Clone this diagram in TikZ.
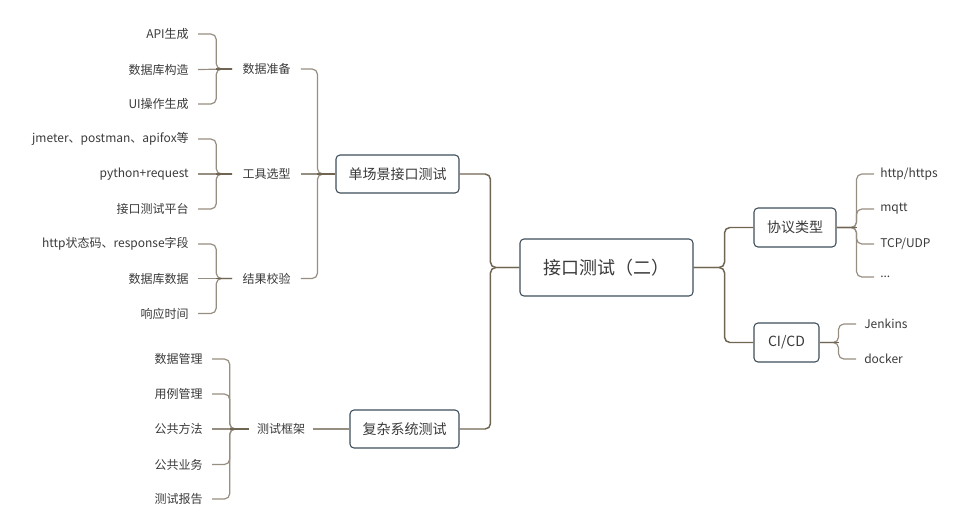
\documentclass[tikz,border=0pt]{standalone}
\usepackage{fontspec}
\setmainfont{Noto Sans CJK SC}
\usepackage{tikz}
\usetikzlibrary{positioning}
\definecolor{mmLine}{RGB}{112,101,82}
\definecolor{mmStub}{RGB}{150,142,128}
\definecolor{mmBox}{RGB}{62,78,90}
\definecolor{mmText}{RGB}{58,58,58}

\begin{document}
\begin{tikzpicture}[
    x=0.75pt, y=-0.75pt,
    topic/.style={draw=mmBox, line width=0.8pt, rounded corners=3pt, fill=white,
                  text=mmText, font=\fontsize{10.5pt}{12pt}\selectfont, inner sep=0pt},
    sub/.style={text=mmText, font=\fontsize{9pt}{11pt}\selectfont, inner ysep=2pt},
    leafL/.style={sub, anchor=east, inner xsep=6.75pt},
    leafR/.style={sub, anchor=west, inner xsep=4.5pt},
    trunk/.style={draw=mmLine, line width=1.1pt, rounded corners=4pt},
    stub/.style={draw=mmStub, line width=0.9pt, rounded corners=4pt}
  ]
  \useasboundingbox (0,0) rectangle (978,526);

  % central topic
  \node[topic, minimum width=129.75pt, minimum height=42.75pt,
        font=\fontsize{13.5pt}{16pt}\selectfont] (root) at (606.5,267.5) {接口测试（二）};

  % main topics
  \node[topic, minimum width=92.25pt, minimum height=28.5pt] (single) at (397.5,174) {单场景接口测试};
  \node[topic, minimum width=81.75pt, minimum height=28.5pt] (complex) at (404.5,429) {复杂系统测试};
  \node[topic, minimum width=61.5pt, minimum height=29.25pt] (proto) at (795,227.5) {协议类型};
  \node[topic, minimum width=48.75pt, minimum height=29.25pt] (cicd) at (786.5,342.5) {CI/CD};

  \draw[trunk] (root.west) -- ++(-29,0) |- (single.east);
  \draw[trunk] (root.west) -- ++(-29,0) |- (complex.east);
  \draw[trunk] (root.east) -- ++(31,0) |- (proto.west);
  \draw[trunk] (root.east) -- ++(31,0) |- (cicd.west);

  % single scenario
  \node[sub, inner xsep=7.5pt] (prep) at (266.5,69) {数据准备};
  \node[sub, inner xsep=7.5pt] (tool) at (266.5,174) {工具选型};
  \node[sub, inner xsep=7.5pt] (check) at (266.5,278.5) {结果校验};
  \foreach \n [count=\i] in {prep, tool, check} {
    \ifnum\i=2
      \draw[stub] (single.west) -- (\n.east);
    \else
      \draw[stub] (single.west) -- ++(-18,0) |- (\n.east);
    \fi
  }
  \draw[trunk] (single.west) -- ++(-18,0);

  \foreach \t/\y [count=\i] in {API生成/34, 数据库构造/69.5, UI操作生成/104} {
    \node[leafL] (prep\i) at (198,\y) {\t};
    \ifnum\i=2
      \draw[stub] (prep.west) -- (prep\i.east);
    \else
      \draw[stub] (prep.west) -- ++(-16,0) |- (prep\i.east);
    \fi
  }
  \draw[trunk] (prep.west) -- ++(-16,0);

  \foreach \t/\y [count=\i] in {jmeter、postman、apifox等/139, python+request/174, 接口测试平台/209} {
    \node[leafL] (tool\i) at (198,\y) {\t};
    \ifnum\i=2
      \draw[stub] (tool.west) -- (tool\i.east);
    \else
      \draw[stub] (tool.west) -- ++(-16,0) |- (tool\i.east);
    \fi
  }
  \draw[trunk] (tool.west) -- ++(-16,0);

  \foreach \t/\y [count=\i] in {http状态码、response字段/244, 数据库数据/278.5, 响应时间/313.5} {
    \node[leafL] (check\i) at (198,\y) {\t};
    \ifnum\i=2
      \draw[stub] (check.west) -- (check\i.east);
    \else
      \draw[stub] (check.west) -- ++(-16,0) |- (check\i.east);
    \fi
  }
  \draw[trunk] (check.west) -- ++(-16,0);

  % complex system
  \node[sub, inner xsep=6pt] (frame) at (281,429) {测试框架};
  \draw[stub] (complex.west) -- (frame.east);
  \foreach \t/\y [count=\i] in {数据管理/359, 用例管理/394, 公共方法/429, 公共业务/464.5, 测试报告/499} {
    \node[leafL] (frame\i) at (212,\y) {\t};
    \ifnum\i=3
      \draw[stub] (frame.west) -- (frame\i.east);
    \else
      \draw[stub] (frame.west) -- ++(-19,0) |- (frame\i.east);
    \fi
  }
  \draw[trunk] (frame.west) -- ++(-19,0);

  % protocols
  \foreach \t/\y [count=\i] in {{http/https}/174, mqtt/209, {TCP/UDP}/244, {{...}}/277} {
    \node[leafR] (proto\i) at (874,\y) {\t};
    \draw[stub] (proto.east) -- ++(20,0) |- (proto\i.west);
  }
  \draw[trunk] (proto.east) -- ++(20,0);

  % ci/cd
  \foreach \t/\y [count=\i] in {Jenkins/324, docker/359} {
    \node[leafR, inner xsep=6pt] (cicd\i) at (856,\y) {\t};
    \draw[stub] (cicd.east) -- ++(19,0) |- (cicd\i.west);
  }
  \draw[trunk] (cicd.east) -- ++(19,0);
\end{tikzpicture}
\end{document}
